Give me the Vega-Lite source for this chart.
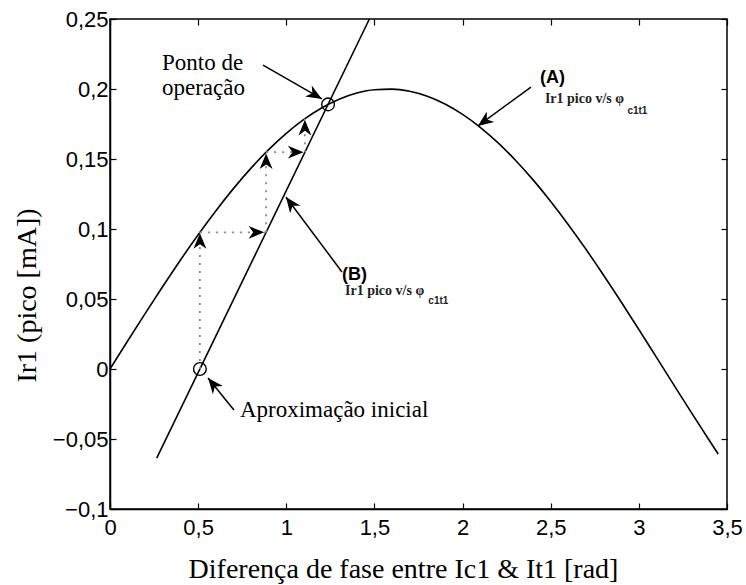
{
  "$schema": "https://vega.github.io/schema/vega-lite/v6.json",
  "width": 617,
  "height": 490,
  "autosize": "none",
  "padding": {"left": 110, "top": 19, "right": 19, "bottom": 76},
  "background": "white",
  "config": {
    "view": {"stroke": "black", "strokeWidth": 1.5},
    "axis": {
      "grid": false,
      "domainColor": "black",
      "domainWidth": 1.5,
      "tickColor": "black",
      "tickWidth": 1.2,
      "tickSize": -6,
      "labelFont": "Liberation Sans",
      "labelFontSize": 22,
      "labelColor": "black",
      "labelFlush": false,
      "labelOverlap": false,
      "titleFont": "Times New Roman, Liberation Serif, DejaVu Serif, serif",
      "titleFontSize": 28,
      "titleFontWeight": "normal",
      "titleColor": "black"
    }
  },
  "datasets": {
    "curveA": [
      {"x": 0, "y": 0}, {"x": 0.1, "y": 0.01997}, {"x": 0.2, "y": 0.03973}, {"x": 0.3, "y": 0.0591},
      {"x": 0.4, "y": 0.07788}, {"x": 0.5, "y": 0.09589}, {"x": 0.6, "y": 0.11293}, {"x": 0.7, "y": 0.12884},
      {"x": 0.8, "y": 0.14347}, {"x": 0.9, "y": 0.15667}, {"x": 1.0, "y": 0.16829}, {"x": 1.1, "y": 0.17824},
      {"x": 1.2, "y": 0.18641}, {"x": 1.3, "y": 0.19271}, {"x": 1.4, "y": 0.19709}, {"x": 1.5, "y": 0.1995},
      {"x": 1.6, "y": 0.19991}, {"x": 1.7, "y": 0.19833}, {"x": 1.8, "y": 0.19477}, {"x": 1.9, "y": 0.18926},
      {"x": 2.0, "y": 0.18186}, {"x": 2.1, "y": 0.17264}, {"x": 2.2, "y": 0.1617}, {"x": 2.3, "y": 0.14914},
      {"x": 2.4, "y": 0.13509}, {"x": 2.5, "y": 0.11969}, {"x": 2.6, "y": 0.1031}, {"x": 2.7, "y": 0.08548},
      {"x": 2.8, "y": 0.067}, {"x": 2.9, "y": 0.04785}, {"x": 3.0, "y": 0.02822}, {"x": 3.1, "y": 0.00832},
      {"x": 3.2, "y": -0.01167}, {"x": 3.3, "y": -0.03155}, {"x": 3.4, "y": -0.05111}, {"x": 3.45, "y": -0.0607}
    ],
    "lineB": [{"x": 0.265, "y": -0.0637}, {"x": 1.4715, "y": 0.25}],
    "steps": [
      {"x": 0.51, "y": 0, "x2": 0.51, "y2": 0.0976},
      {"x": 0.51, "y": 0.0976, "x2": 0.8855, "y2": 0.0976},
      {"x": 0.8855, "y": 0.0976, "x2": 0.8855, "y2": 0.1549},
      {"x": 0.8855, "y": 0.1549, "x2": 1.1056, "y2": 0.1549},
      {"x": 1.1056, "y": 0.1549, "x2": 1.1056, "y2": 0.1787}
    ],
    "pointers": [
      {"x": 0.868, "y": 0.2171, "x2": 1.202, "y2": 0.1929},
      {"x": 2.388, "y": 0.2014, "x2": 2.087, "y2": 0.1736},
      {"x": 1.316, "y": 0.0693, "x2": 0.998, "y2": 0.1229},
      {"x": 0.703, "y": -0.0293, "x2": 0.556, "y2": -0.0064}
    ],
    "heads": [
      {"x": 1.202, "y": 0.1929, "angle": 120.7},
      {"x": 2.087, "y": 0.1736, "angle": 233.7},
      {"x": 0.998, "y": 0.1229, "angle": 323.3},
      {"x": 0.556, "y": -0.0064, "angle": 320.9},
      {"x": 0.51, "y": 0.097, "angle": 0},
      {"x": 0.875, "y": 0.0976, "angle": 90},
      {"x": 0.8855, "y": 0.154, "angle": 0},
      {"x": 1.098, "y": 0.1549, "angle": 90},
      {"x": 1.1056, "y": 0.178, "angle": 0}
    ],
    "circles": [{"x": 0.51, "y": 0}, {"x": 1.237, "y": 0.189}],
    "serifLabels": [
      {"x": 0.295, "y": 0.2186, "text": "Ponto de"},
      {"x": 0.295, "y": 0.2007, "text": "operação"},
      {"x": 0.737, "y": -0.0293, "text": "Aproximação inicial"}
    ],
    "boldLabels": [
      {"x": 2.439, "y": 0.2082, "text": "(A)"},
      {"x": 1.316, "y": 0.0671, "text": "(B)"}
    ],
    "smallLabels": [
      {"x": 2.467, "y": 0.1929, "text": "Ir1 pico v/s φ"},
      {"x": 1.333, "y": 0.0557, "text": "Ir1 pico v/s φ"}
    ],
    "subLabels": [
      {"x": 2.935, "y": 0.1843, "text": "c1t1"},
      {"x": 1.806, "y": 0.0486, "text": "c1t1"}
    ]
  },
  "layer": [
    {
      "layer": [
        {
          "data": {"name": "curveA"},
          "mark": {"type": "line", "color": "black", "strokeWidth": 1.6, "interpolate": "monotone"},
          "encoding": {
            "x": {
              "field": "x", "type": "quantitative",
              "scale": {"domain": [0, 3.5], "nice": false, "zero": false},
              "axis": {
                "values": [0, 0.5, 1, 1.5, 2, 2.5, 3, 3.5],
                "format": ".1~f",
                "labelExpr": "replace(datum.label, '.', ',')",
                "labelPadding": 14,
                "title": "Diferença de fase entre Ic1 & It1 [rad]",
                "titleX": 293, "titleY": 68, "titleAlign": "center", "titleBaseline": "alphabetic"
              }
            },
            "y": {
              "field": "y", "type": "quantitative",
              "scale": {"domain": [-0.1, 0.25], "nice": false, "zero": false},
              "axis": {
                "values": [-0.1, -0.05, 0, 0.05, 0.1, 0.15, 0.2, 0.25],
                "format": ".2~f",
                "labelExpr": "replace(datum.label, '.', ',')",
                "labelPadding": 8,
                "title": "Ir1 (pico [mA])",
                "titleX": -75, "titleY": 276, "titleAlign": "center", "titleBaseline": "alphabetic", "titleAngle": -90
              }
            }
          }
        },
        {
          "mark": {"type": "rule", "color": "black", "strokeWidth": 1.5},
          "encoding": {"y": {"datum": 0}}
        },
        {
          "data": {"name": "lineB"},
          "mark": {"type": "line", "color": "black", "strokeWidth": 1.6},
          "encoding": {"x": {"field": "x", "type": "quantitative"}, "y": {"field": "y", "type": "quantitative"}}
        },
        {
          "data": {"name": "steps"},
          "mark": {"type": "rule", "color": "#8a8a8a", "strokeWidth": 1.8, "strokeDash": [2, 6]},
          "encoding": {
            "x": {"field": "x", "type": "quantitative"}, "y": {"field": "y", "type": "quantitative"},
            "x2": {"field": "x2"}, "y2": {"field": "y2"}
          }
        },
        {
          "data": {"name": "pointers"},
          "mark": {"type": "rule", "color": "black", "strokeWidth": 1.5},
          "encoding": {
            "x": {"field": "x", "type": "quantitative"}, "y": {"field": "y", "type": "quantitative"},
            "x2": {"field": "x2"}, "y2": {"field": "y2"}
          }
        },
        {
          "data": {"name": "heads"},
          "mark": {"type": "point", "shape": "M0,0 L0.7,1.7 L0,1.2 L-0.7,1.7 Z", "filled": true, "color": "black", "opacity": 1, "size": 340},
          "encoding": {
            "x": {"field": "x", "type": "quantitative"}, "y": {"field": "y", "type": "quantitative"},
            "angle": {"field": "angle", "type": "quantitative", "scale": null}
          }
        },
        {
          "data": {"name": "circles"},
          "mark": {"type": "point", "shape": "circle", "filled": false, "color": "black", "opacity": 1, "size": 160, "strokeWidth": 1.4},
          "encoding": {"x": {"field": "x", "type": "quantitative"}, "y": {"field": "y", "type": "quantitative"}}
        },
        {
          "data": {"name": "serifLabels"},
          "mark": {"type": "text", "font": "Times New Roman, Liberation Serif, DejaVu Serif, serif", "fontSize": 23, "align": "left", "baseline": "middle", "color": "black"},
          "encoding": {"x": {"field": "x", "type": "quantitative"}, "y": {"field": "y", "type": "quantitative"}, "text": {"field": "text"}}
        },
        {
          "data": {"name": "boldLabels"},
          "mark": {"type": "text", "font": "Liberation Sans", "fontSize": 18, "fontWeight": "bold", "align": "left", "baseline": "middle", "color": "black"},
          "encoding": {"x": {"field": "x", "type": "quantitative"}, "y": {"field": "y", "type": "quantitative"}, "text": {"field": "text"}}
        },
        {
          "data": {"name": "smallLabels"},
          "mark": {"type": "text", "font": "Times New Roman, Liberation Serif, serif", "fontSize": 14, "fontWeight": "bold", "align": "left", "baseline": "middle", "color": "#222"},
          "encoding": {"x": {"field": "x", "type": "quantitative"}, "y": {"field": "y", "type": "quantitative"}, "text": {"field": "text"}}
        },
        {
          "data": {"name": "subLabels"},
          "mark": {"type": "text", "font": "Liberation Sans", "fontSize": 10, "fontWeight": "bold", "align": "left", "baseline": "middle", "color": "#222"},
          "encoding": {"x": {"field": "x", "type": "quantitative"}, "y": {"field": "y", "type": "quantitative"}, "text": {"field": "text"}}
        }
      ]
    },
    {
      "data": {"values": [{"x": 0, "y": 0}]},
      "mark": {"type": "point", "opacity": 0},
      "encoding": {
        "x": {"field": "x", "type": "quantitative", "axis": {"orient": "top", "labels": false, "title": null, "domain": false, "values": [0, 0.5, 1, 1.5, 2, 2.5, 3, 3.5]}},
        "y": {"field": "y", "type": "quantitative", "axis": {"orient": "right", "labels": false, "title": null, "domain": false, "values": [-0.1, -0.05, 0, 0.05, 0.1, 0.15, 0.2, 0.25]}}
      }
    }
  ],
  "resolve": {"axis": {"x": "independent", "y": "independent"}}
}
